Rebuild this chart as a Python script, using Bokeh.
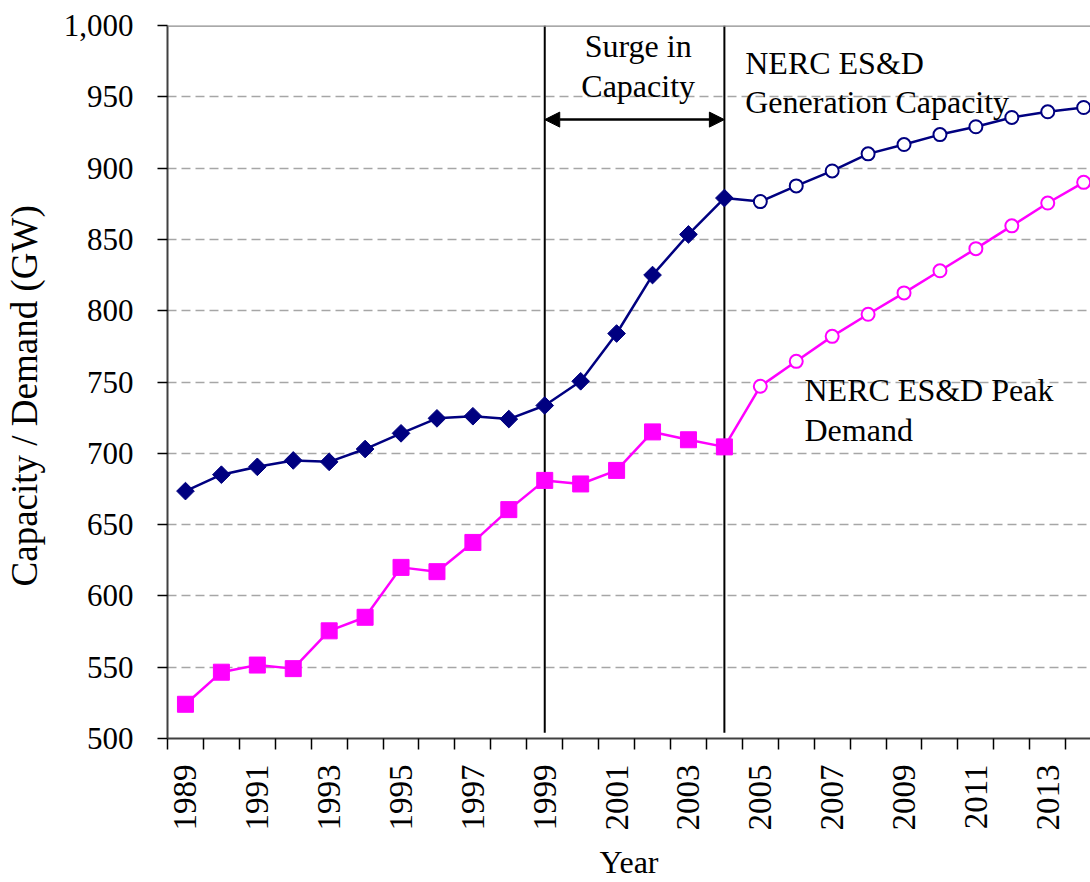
import math
from bokeh.plotting import figure
from bokeh.models import FixedTicker, NumeralTickFormatter, Span, Arrow, NormalHead, Range1d
from bokeh.core.properties import value
from bokeh.embed import file_html
from bokeh.resources import INLINE

# ---- data ----
hist_years = list(range(1989, 2005))
proj_years = list(range(2005, 2015))
cap_hist = [673.5, 685, 690.5, 695, 694, 703, 714, 724.5, 726, 724, 733.5, 750.5, 784, 825, 853.5, 879]
cap_proj = [876.5, 887.5, 898, 910, 916.5, 923.5, 929, 935.5, 939.5, 942.5]
dem_hist = [524, 546.5, 551.5, 549, 575.5, 585, 620, 617, 637.5, 660.5, 681, 678.5, 688, 715, 709.5, 704.5]
dem_proj = [747, 764.5, 782, 797.5, 812.5, 828, 843.5, 859.5, 875.5, 890]
label_years = list(range(1989, 2015, 2))
y_ticks = list(range(500, 1001, 50))

years = hist_years + proj_years
capacity = cap_hist + cap_proj
demand = dem_hist + dem_proj

NAVY = "#000080"
MAGENTA = "#FF00FF"
FONT = "Liberation Serif"
NBSP = "\u00a0"

p = figure(width=1090, height=882,
           x_range=Range1d(1988.5, 2014.19), y_range=Range1d(500, 1000),
           output_backend="svg", toolbar_location=None,
           min_border_left=167, min_border_top=25, min_border_right=0, min_border_bottom=0)

p.outline_line_color = None
p.background_fill_color = "white"
p.border_fill_color = "white"

# grid
p.xgrid.visible = False
p.ygrid.ticker = FixedTicker(ticks=y_ticks)
p.ygrid.grid_line_color = "#a6a6a6"
p.ygrid.grid_line_dash = "9 5"
p.ygrid.grid_line_width = 1.3

# top border
p.add_layout(Span(location=1000, dimension="width", line_color="#8c8c8c", line_width=2.5))

# axes
p.yaxis.ticker = FixedTicker(ticks=y_ticks)
p.yaxis.formatter = NumeralTickFormatter(format="0,0")
p.yaxis.axis_label = "Capacity / Demand (GW)" + NBSP * 3
p.yaxis.major_tick_out = 10
p.yaxis.major_tick_in = 0
p.yaxis.minor_tick_out = 0
p.yaxis.minor_tick_in = 0
p.yaxis.major_label_standoff = 24
p.yaxis.axis_label_standoff = 16
p.yaxis.major_label_text_font_size = "31px"
p.yaxis.axis_label_text_font_size = "37px"

p.xaxis.ticker = FixedTicker(ticks=label_years, minor_ticks=[y - 0.5 for y in range(1989, 2016)])
p.xaxis.formatter = NumeralTickFormatter(format="0")
p.xaxis.axis_label = "Year"
p.xaxis.major_label_orientation = math.pi / 2
p.xaxis.major_tick_out = 0
p.xaxis.major_tick_in = 0
p.xaxis.minor_tick_out = 11
p.xaxis.minor_tick_in = 0
p.xaxis.major_label_standoff = 15
p.xaxis.axis_label_standoff = 10
p.xaxis.major_label_text_font_size = "33px"
p.xaxis.axis_label_text_font_size = "32px"

for ax in (p.xaxis[0], p.yaxis[0]):
    ax.axis_line_color = "#404040"
    ax.axis_line_width = 2
    ax.major_tick_line_color = "black"
    ax.major_tick_line_width = 1.5
    ax.minor_tick_line_color = "black"
    ax.minor_tick_line_width = 1.5
    ax.major_label_text_font = FONT
    ax.major_label_text_color = "black"
    ax.axis_label_text_font = FONT
    ax.axis_label_text_font_style = "normal"
    ax.axis_label_text_color = "black"

# vertical markers for surge period
p.segment(x0=[1999, 2004], y0=[504, 504], x1=[1999, 2004], y1=[1000, 1000],
          line_color="black", line_width=2)

# arrow
p.add_layout(Arrow(start=NormalHead(size=15, fill_color="black", line_color="black"),
                   end=NormalHead(size=15, fill_color="black", line_color="black"),
                   x_start=1999, y_start=934, x_end=2004, y_end=934,
                   line_color="black", line_width=2.5))

# series lines
p.line(years, capacity, line_color=NAVY, line_width=2.5)
p.line(years, demand, line_color=MAGENTA, line_width=2.5)

# markers
p.scatter(hist_years, cap_hist, marker="square", angle=math.pi / 4, size=12.5,
          fill_color=NAVY, line_color=NAVY)
p.scatter(proj_years, cap_proj, marker="circle", size=13, fill_color="white",
          line_color=NAVY, line_width=2)
p.scatter(hist_years, dem_hist, marker="square", size=16,
          fill_color=MAGENTA, line_color=MAGENTA)
p.scatter(proj_years, dem_proj, marker="circle", size=13, fill_color="white",
          line_color=MAGENTA, line_width=2)

# annotation texts
p.text(x=[2001.6, 2001.6], y=[985.5, 957.5], text=["Surge in", "Capacity"],
       text_font=value(FONT), text_font_size="32px", text_align="center",
       text_baseline="alphabetic", text_color="black")
p.text(x=[2004.58, 2004.58], y=[974, 946.5], text=["NERC ES&D", "Generation Capacity"],
       text_font=value(FONT), text_font_size="32px", text_align="left",
       text_baseline="alphabetic", text_color="black")
p.text(x=[2006.23, 2006.23], y=[744.5, 716], text=["NERC ES&D Peak", "Demand"],
       text_font=value(FONT), text_font_size="32px", text_align="left",
       text_baseline="alphabetic", text_color="black")

open("out.html", "w").write(file_html(p, INLINE))
